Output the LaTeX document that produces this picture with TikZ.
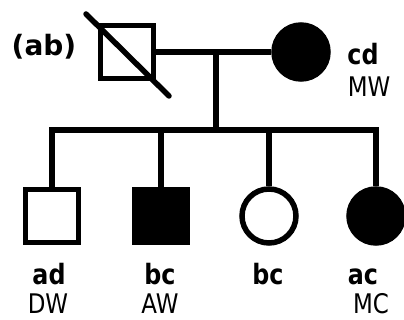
\documentclass[tikz,border=0pt]{standalone}
\usepackage{fontspec}
\setmainfont{DejaVu Sans}
\usepackage{graphicx}
\usepackage{tikz}
\usetikzlibrary{positioning}
\usetikzlibrary{calc}

\newcommand{\narrow}[1]{\scalebox{0.85}[1]{#1}}

\begin{document}
\begin{tikzpicture}[x=1pt, y=1pt,
        male/.style={rectangle, draw=black, line width=5.5pt, minimum size=53pt, inner sep=0pt},
        female/.style={circle, draw=black, line width=5.5pt, minimum size=54pt, inner sep=0pt},
        line/.style={black, line width=5.5pt},
        geno/.style={font=\fontsize{28}{30}\selectfont\bfseries, inner sep=0pt, anchor=base},
        pheno/.style={font=\fontsize{27}{29}\selectfont, inner sep=0pt, anchor=base}
      ]
        \useasboundingbox (0,0) rectangle (404,320);

        % parents
        \node[male]               (father) at (127,268) {};
        \node[female, fill=black] (mother) at (301,268) {};
        \draw[line, line cap=round] ($(father.center)+(-41,38)$) coordinate (dtop) -- ($(father.center)+(42,-44)$) coordinate (dbot);

        % children
        \node[male]               (ad) at (52,104)  {};
        \node[male, fill=black]   (bc) at (161,104) {};
        \node[female]             (bd) at (269,104) {};
        \node[female, fill=black] (ac) at (376,104) {};

        \coordinate (mid) at (216,268);
        \coordinate (sib) at (216,190);

        \draw[line]  (father.east) -- (mother.west);
        \draw[line]  (mid) -- (sib);
        \draw[line]  ([xshift=-2.75pt]ad.north |- sib) -- ([xshift=2.75pt]ac.north |- sib);
        \foreach \kid in {ad, bc, bd, ac}
          \draw[line] (\kid.north) -- (\kid.north |- sib);

        % genotypes and blood groups
        \node[geno]  (fg)  at (44,264)  {(ab)};
        \node[geno]  (mg)  at (363,255) {\narrow{cd}};
        \node[pheno] (mp)  at (369,223) {\narrow{MW}};
        \node[geno]  (adg) at (49,35)   {\narrow{ad}};
        \node[pheno] (adp) at (48,6)    {\narrow{DW}};
        \node[geno]  (bcg) at (160,35)  {\narrow{bc}};
        \node[pheno] (bcp) at (160,6)   {\narrow{AW}};
        \node[geno]  (bdg) at (268,35)  {\narrow{bc}};
        \node[geno]  (acg) at (363,35)  {\narrow{ac}};
        \node[pheno] (acp) at (371,6)   {\narrow{MC}};
      \end{tikzpicture}
\end{document}
